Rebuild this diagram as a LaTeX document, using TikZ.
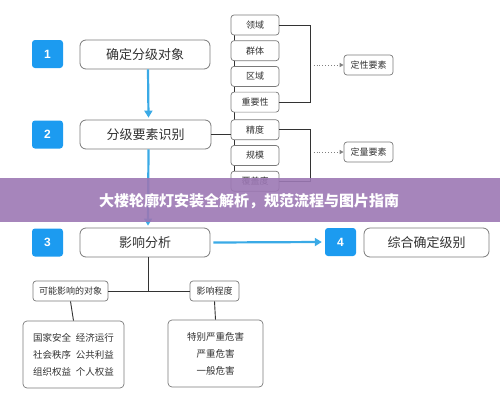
\documentclass[tikz,border=0pt]{standalone}
\usepackage{fontspec}
\setmainfont{Noto Sans CJK SC}
\newfontfamily\numfont{Liberation Sans}
\usetikzlibrary{positioning}
\usetikzlibrary{backgrounds}
\usetikzlibrary{arrows.meta}
\definecolor{stepblue}{HTML}{1C9BF0}
\definecolor{flowblue}{HTML}{3AAAE6}
\definecolor{boxgray}{HTML}{7A7A7A}
\definecolor{txtgray}{HTML}{333333}
\definecolor{bannerpurple}{HTML}{9C78B4}

\begin{document}
\begin{tikzpicture}[x=1pt, y=-1pt,
		numbox/.style={fill=stepblue, rounded corners=3pt, minimum width=31pt,
			minimum height=28pt, inner sep=0pt, text=white,
			font=\numfont\bfseries\fontsize{12}{12}\selectfont},
		stagebox/.style={draw=boxgray, line width=0.8pt, rounded corners=6pt,
			fill=white, minimum width=130pt, minimum height=29pt, inner sep=0pt,
			text=txtgray, font=\fontsize{13}{13}\selectfont},
		factor/.style={draw=boxgray, line width=0.7pt, rounded corners=3pt,
			fill=white, minimum width=48pt, minimum height=20pt, inner sep=0pt,
			text=txtgray, font=\fontsize{9}{9}\selectfont},
		listbox/.style={draw=boxgray, line width=0.7pt, rounded corners=4pt,
			fill=white, minimum height=67pt, inner sep=0pt, text=txtgray,
			align=center, font=\fontsize{9.5}{17}\selectfont},
		flow/.style={flowblue, line width=2.2pt, -{Triangle[length=7pt,width=8pt]}},
		link/.style={black!80, line width=0.9pt},
		hint/.style={gray, dotted, line width=0.9pt, -{Triangle[length=4pt,width=4pt]}}
		]
		\useasboundingbox (0,0) rectangle (500,402);
		
		\node[numbox] (n1) at (47.5,54) {1};
		\node[stagebox] (s1) at (145,54.5) {确定分级对象};
		\node[numbox] (n2) at (47.5,134.5) {2};
		\node[stagebox, minimum width=131pt] (s2) at (145.5,134.5) {分级要素识别};
		\node[numbox] (n3) at (47.5,242.5) {3};
		\node[stagebox] (s3) at (145,242.5) {影响分析};
		\node[numbox] (n4) at (340.5,242) {4};
		\node[stagebox, minimum width=125pt] (s4) at (426.5,242.5) {综合确定级别};
		
		% factor column
		\node[factor] (e1) at (255,25) {领域};
		\node[factor, below=5pt of e1] (e2) {群体};
		\node[factor, below=5pt of e2] (e3) {区域};
		\node[factor, below=5pt of e3] (e4) {重要性};
		\node[factor, below=7pt of e4] (e5) {精度};
		\node[factor, below=5pt of e5] (e6) {规模};
		\node[factor, below=5pt of e6] (e7) {覆盖度};
		\begin{scope}[on background layer]
			\draw[link] ([xshift=4pt]e1.south west) -- ([xshift=4pt]e7.north west);
		\end{scope}
		
		\node[factor, minimum width=49pt] (q1) at (368.5,65) {定性要素};
		\node[factor, minimum width=49pt] (q2) at (368.5,152) {定量要素};
		
		\draw[link] (e1.east) -- ++(31,0) |- (e4.east);
		\draw[link] (e5.east) -- ++(31,0) |- (e7.east);
		\draw[hint] ([xshift=-30pt]q1.west) -- (q1.west);
		\draw[hint] ([xshift=-30pt]q2.west) -- (q2.west);
		
		\draw[link] (s2.east) -- (s2.east -| e5.west);
		
		\draw[flow] ([xshift=3pt]s1.south) -- ([xshift=3pt, yshift=2pt]s2.north);
		\draw[flow] ([xshift=3pt]s2.south) -- ([xshift=3pt, yshift=2pt]s3.north);
		\draw[flow] ([xshift=3pt]s3.east) -- ([xshift=-3pt]n4.west);
		
		% impact analysis
		\node[factor, minimum width=75pt] (o1) at (70.5,291) {可能影响的对象};
		\node[factor, minimum width=49pt] (o2) at (214.5,291) {影响程度};
		\draw[link] (o1.east) -- (o2.west);
		\draw[link] ([xshift=3pt]s3.south) -- ([xshift=3pt]s3.south |- o1.east);
		
		\node[listbox, minimum width=101pt] (b1) at (73.5,354.5)
		{国家安全\enspace 经济运行\\社会秩序\enspace 公共利益\\组织权益\enspace 个人权益};
		\node[listbox, minimum width=95pt] (b2) at (215.5,353.5)
		{特别严重危害\\严重危害\\一般危害};
		\draw[link] (o1.south) -- (b1.north);
		\draw[link] (o2.south) -- (b2.north);
		
		% title banner
		\fill[bannerpurple, opacity=0.9] (0,178) rectangle (500,222);
		\node[text=white, font=\bfseries\fontsize{15}{15}\selectfont] (title) at (249,201)
		{大楼轮廓灯安装全解析，规范流程与图片指南};
	\end{tikzpicture}
\end{document}
